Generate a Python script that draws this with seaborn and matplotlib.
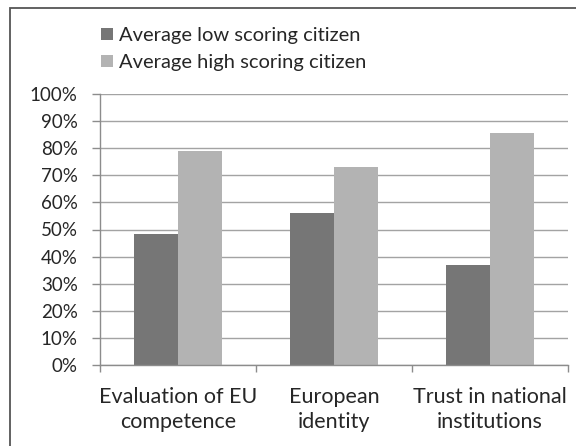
import matplotlib
matplotlib.use("Agg")
import matplotlib.pyplot as plt
import seaborn as sns
import pandas as pd
from matplotlib.patches import Rectangle, Patch
from matplotlib.ticker import FixedLocator, PercentFormatter

categories = ["Evaluation of EU\ncompetence", "European\nidentity", "Trust in national\ninstitutions"]
series_names = ["Average low scoring citizen", "Average high scoring citizen"]
low_values = [0.482, 0.560, 0.369]
high_values = [0.788, 0.732, 0.855]
colors = ["#767676", "#b3b3b3"]

sns.set_theme(style="white")
plt.rcParams['font.family'] = ['Lato', 'DejaVu Sans']

df = pd.DataFrame({
    "category": categories * 2,
    "series": [series_names[0]] * 3 + [series_names[1]] * 3,
    "value": low_values + high_values,
})

fig = plt.figure(figsize=(5.76, 4.46), dpi=100)
ax = fig.add_axes([100/576, 1-365/446, 468/576, 271/446])

sns.barplot(data=df, x="category", y="value", hue="series", order=categories,
            hue_order=series_names, palette=colors, width=0.57, ax=ax,
            saturation=1, legend=False, linewidth=0, edgecolor="none")

ax.set_xlim(-0.5, 2.5)
ax.set_ylim(0, 1.0)
ax.set_yticks([i/10 for i in range(11)])
ax.yaxis.set_major_formatter(PercentFormatter(1.0, decimals=0))
ax.yaxis.grid(True, color="#a3a3a3", linewidth=1.0)
ax.set_axisbelow(True)
ax.set_xlabel("")
ax.set_ylabel("")

for s in ["top", "right"]:
    ax.spines[s].set_visible(False)
for s in ["left", "bottom"]:
    ax.spines[s].set_color("#8c8c8c")
    ax.spines[s].set_linewidth(1.0)

ax.tick_params(axis="y", which="major", length=6, width=1, color="#8c8c8c",
               labelsize=13.5, labelcolor="#262626", pad=10, direction="out", left=True)
ax.tick_params(axis="x", which="major", length=0, labelsize=15.5, labelcolor="#262626", pad=16)
ax.xaxis.set_minor_locator(FixedLocator([-0.5, 0.5, 1.5, 2.5]))
ax.tick_params(axis="x", which="minor", length=5, width=1, color="#8c8c8c", direction="out", bottom=True)
for lbl in ax.get_xticklabels():
    lbl.set_linespacing(1.3)

handles = [Patch(facecolor=c, edgecolor="none") for c in colors]
fig.legend(handles, series_names, loc="upper left", bbox_to_anchor=(91/576, 1-17/446),
           frameon=False, fontsize=14.5, handlelength=0.6, handleheight=0.6,
           handletextpad=0.3, labelspacing=0.5, labelcolor="#262626", borderpad=0)

fig.patches.append(Rectangle((10/576, -0.1), 1.2, 1-8/446+0.1, transform=fig.transFigure,
                             fill=False, edgecolor="#555555", linewidth=1.3))

fig.savefig("out.png", dpi=100)
